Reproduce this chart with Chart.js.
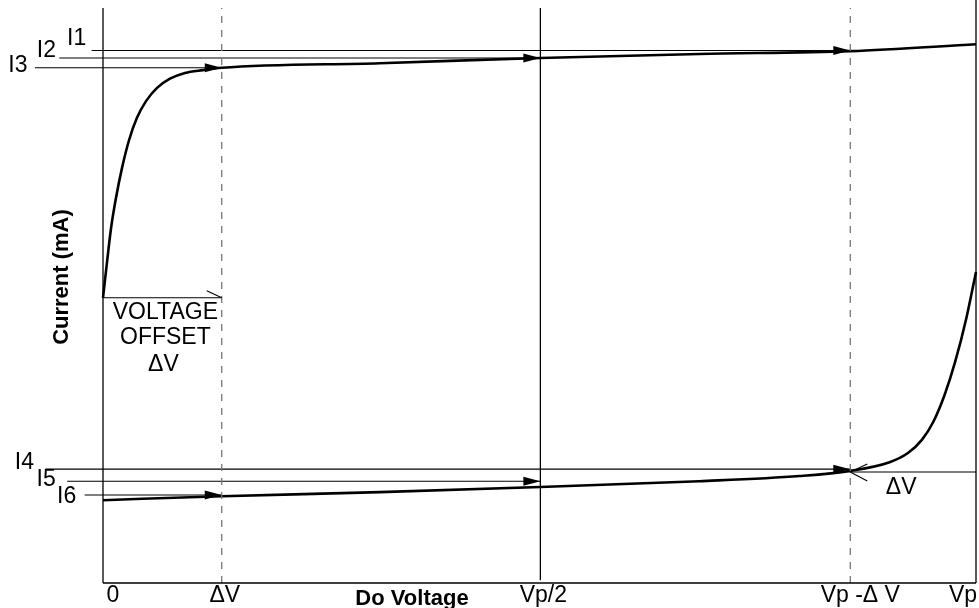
<!DOCTYPE html>
<html>
<head>
<meta charset="utf-8">
<script src="https://cdn.jsdelivr.net/npm/chart.js@4.4.1/dist/chart.umd.min.js"></script>
<style>
  html, body { margin: 0; padding: 0; background: #fff; }
  #wrap { width: 979px; height: 608px; position: relative; }
</style>
</head>
<body>
<div id="wrap"><canvas id="chart"></canvas></div>
<script>
// x axis runs 0..Vp (Vp = 100), y axis is current in arbitrary units 0..100
var tickLabels = ['0', '\u0394V', 'Vp/2', 'Vp -\u0394 V', 'Vp'];
var tickValues = [0, 13.6, 50.1, 85.6, 100];

// upper curve (forward sweep)
var upperX = [0, 0.46, 0.92, 1.49, 2.18, 2.98, 3.89, 4.93, 6.19, 7.67, 9.39, 11.45, 13.6, 31.7, 50.1, 68.3, 85.6, 100];
var upperY = [49.6, 55.8, 61.7, 67.0, 72.2, 77.0, 80.9, 83.8, 86.1, 87.7, 88.7, 89.2, 89.6, 90.4, 91.3, 92.0, 92.5, 93.7];

// lower curve (reverse sweep)
var lowerX = [0, 13.6, 31.7, 50.1, 68.3, 79.8, 85.6, 90.1, 92.2, 93.8, 95.1, 96.4, 97.6, 98.9, 100];
var lowerY = [14.4, 15.1, 15.8, 16.7, 17.7, 18.6, 19.5, 21.0, 22.6, 24.9, 28.0, 32.7, 38.4, 46.1, 54.1];

// current levels read at the marked voltages
var levelNames = ['I1', 'I2', 'I3', 'I4', 'I5', 'I6'];
var levelY = [92.6, 91.3, 89.6, 19.8, 17.7, 15.3];
var levelStart = [-1.3, -5.0, -7.8, -6.6, -4.1, -2.1];
var levelEnd = [85.6, 50.1, 13.6, 85.6, 50.1, 13.6];

// voltage offset arrows
var offsetY = [49.6, 19.3];
var offsetFrom = [0, 100];
var offsetTo = [13.6, 85.6];

function pts(xs, ys) {
  return xs.map(function (x, i) { return { x: x, y: ys[i] }; });
}
function seg(x1, y1, x2, y2) {
  return [{ x: x1, y: y1 }, { x: x2, y: y2 }];
}

var datasets = [];
function addLine(data, color, width, dash) {
  datasets.push({
    data: data, showLine: true, borderColor: color, borderWidth: width,
    borderDash: dash || [], pointRadius: 0, clip: false, tension: 0
  });
}

// frame and reference verticals
addLine(seg(0, 0, 100, 0), '#000', 1.5);
addLine(seg(0, 0, 0, 100), '#000', 1.3);
addLine(seg(tickValues[2], 0.5, tickValues[2], 100), '#000', 1.3);
addLine(seg(tickValues[4], 0, tickValues[4], 101.4), '#000', 1.3);
addLine(seg(tickValues[1], 0, tickValues[1], 100), '#777', 1.3, [7, 7]);
addLine(seg(tickValues[3], 0, tickValues[3], 100), '#777', 1.3, [7, 7]);

// level lines
levelNames.forEach(function (n, i) {
  addLine(seg(levelStart[i], levelY[i], levelEnd[i], levelY[i]), '#000', 1.1);
});
// offset lines
offsetY.forEach(function (y, i) {
  addLine(seg(offsetFrom[i], y, offsetTo[i], y), '#000', 1.1);
});

// the two sweeps
[pts(upperX, upperY), pts(lowerX, lowerY)].forEach(function (d) {
  datasets.push({
    data: d, showLine: true, borderColor: '#000', borderWidth: 2.6,
    pointRadius: 0, clip: false, cubicInterpolationMode: 'monotone'
  });
});

var FONT = '"Liberation Sans", Arial, Helvetica, sans-serif';

var annotate = {
  id: 'annotate',
  afterDatasetsDraw: function (chart) {
    var ctx = chart.ctx;
    var xs = chart.scales.x, ys = chart.scales.y;
    ctx.save();
    ctx.fillStyle = '#000';
    ctx.strokeStyle = '#000';
    // filled arrowheads at the end of each level line
    levelNames.forEach(function (n, i) {
      var px = xs.getPixelForValue(levelEnd[i]);
      var py = ys.getPixelForValue(levelY[i]);
      ctx.beginPath();
      ctx.moveTo(px, py);
      ctx.lineTo(px - 17, py - 4.5);
      ctx.lineTo(px - 17, py + 4.5);
      ctx.closePath();
      ctx.fill();
    });
    // open arrowheads for the offsets
    ctx.lineWidth = 1.1;
    var p0x = xs.getPixelForValue(offsetTo[0]), p0y = ys.getPixelForValue(offsetY[0]);
    ctx.beginPath();
    ctx.moveTo(p0x - 15, p0y - 7);
    ctx.lineTo(p0x, p0y);
    ctx.stroke();
    var p1x = xs.getPixelForValue(offsetTo[1]), p1y = ys.getPixelForValue(offsetY[1]);
    ctx.beginPath();
    ctx.moveTo(p1x + 17, p1y - 8);
    ctx.lineTo(p1x, p1y);
    ctx.lineTo(p1x + 17, p1y + 9);
    ctx.stroke();

    // text
    ctx.textAlign = 'center';
    ctx.textBaseline = 'middle';
    ctx.font = '23px ' + FONT;
    var nameOffsets = [[-15, -12], [-13, -7], [-17, -2], [-21, -6], [-21, -2], [-18, 2]];
    levelNames.forEach(function (n, i) {
      var sx = xs.getPixelForValue(levelStart[i]);
      var sy = ys.getPixelForValue(levelY[i]);
      ctx.fillText(n, sx + nameOffsets[i][0], sy + nameOffsets[i][1]);
    });
    var tickShift = [10, 3, 3, 10, -13];
    tickValues.forEach(function (v, i) {
      ctx.fillText(tickLabels[i], xs.getPixelForValue(v) + tickShift[i], 596);
    });
    var ox = (xs.getPixelForValue(offsetFrom[0]) + xs.getPixelForValue(offsetTo[0])) / 2 + 3;
    ctx.fillText('VOLTAGE', ox, p0y + 15);
    ctx.fillText('OFFSET', ox, p0y + 40);
    ctx.fillText('\u0394V', ox - 2, p0y + 67);
    ctx.fillText('\u0394V', (p1x + xs.getPixelForValue(offsetFrom[1])) / 2 - 12, p1y + 16);

    ctx.font = 'bold 22px ' + FONT;
    ctx.fillText('Do Voltage', 412, 599);
    ctx.translate(62, 277);
    ctx.rotate(-Math.PI / 2);
    ctx.fillText('Current (mA)', 0, 0);
    ctx.restore();
  }
};

new Chart(document.getElementById('chart'), {
  type: 'scatter',
  data: { datasets: datasets },
  options: {
    responsive: true,
    maintainAspectRatio: false,
    animation: false,
    layout: { padding: { left: 103, top: 8, right: 3, bottom: 25 } },
    scales: {
      x: { type: 'linear', display: false, min: 0, max: 100 },
      y: { type: 'linear', display: false, min: 0, max: 100 }
    },
    plugins: { legend: { display: false }, tooltip: { enabled: false } }
  },
  plugins: [annotate]
});
</script>
</body>
</html>
